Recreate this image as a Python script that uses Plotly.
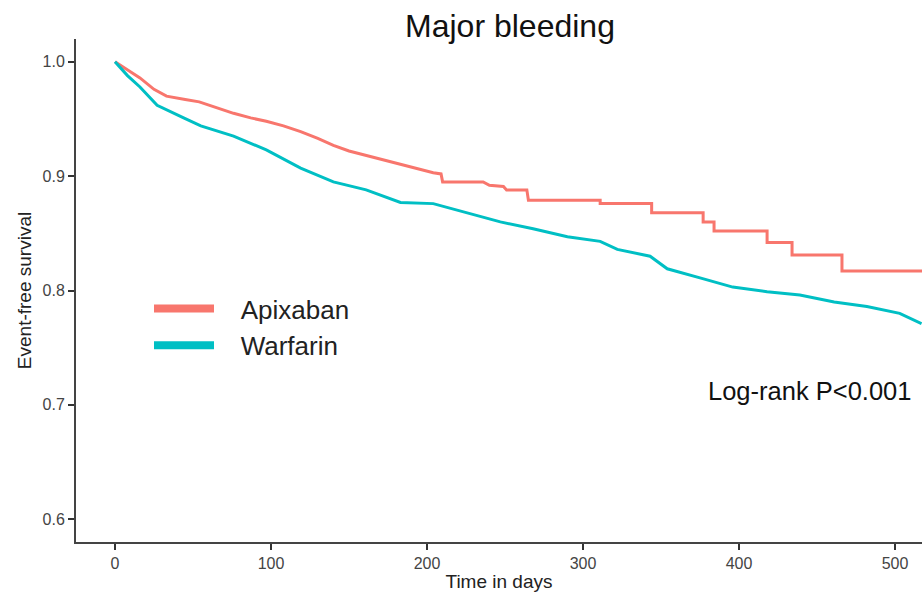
import plotly.graph_objects as go

# ---- data ----
apix_t = [0, 8, 16, 25, 33, 45, 54, 65, 76, 87, 97, 108, 119, 130, 140, 150, 161, 172,
          183, 193, 204, 209, 210, 236, 240, 249, 251, 264, 265, 311, 311, 344, 344,
          377, 377, 384, 384, 418, 418, 434, 434, 466, 466, 520]
apix_s = [1.0, 0.993, 0.986, 0.976, 0.970, 0.967, 0.965, 0.960, 0.955, 0.951, 0.948,
          0.944, 0.939, 0.933, 0.927, 0.922, 0.918, 0.914, 0.910, 0.907, 0.903, 0.902,
          0.895, 0.895, 0.892, 0.891, 0.888, 0.888, 0.879, 0.879, 0.876, 0.876, 0.868,
          0.868, 0.860, 0.860, 0.852, 0.852, 0.842, 0.842, 0.831, 0.831, 0.817, 0.817]

warf_t = [0, 8, 16, 27, 44, 55, 76, 97, 119, 140, 161, 183, 204, 225, 247, 268, 290,
          311, 322, 343, 354, 375, 396, 418, 439, 461, 482, 503, 517]
warf_s = [1.0, 0.988, 0.978, 0.962, 0.951, 0.944, 0.935, 0.923, 0.907, 0.895, 0.888,
          0.877, 0.876, 0.868, 0.860, 0.854, 0.847, 0.843, 0.836, 0.830, 0.819, 0.811,
          0.803, 0.799, 0.796, 0.790, 0.786, 0.780, 0.771]

groups = ["Apixaban", "Warfarin"]
colors = ["#F8766D", "#00BFC4"]
x_ticks = [0, 100, 200, 300, 400, 500]
y_ticks = [0.6, 0.7, 0.8, 0.9, 1.0]

FONT = "Liberation Sans, Arial, sans-serif"
NB = "\u00a0"

fig = go.Figure()
fig.add_trace(go.Scatter(x=apix_t, y=apix_s, mode="lines", line=dict(color=colors[0], width=3),
                         showlegend=False, hoverinfo="skip"))
fig.add_trace(go.Scatter(x=warf_t, y=warf_s, mode="lines", line=dict(color=colors[1], width=3),
                         showlegend=False, hoverinfo="skip"))
for g, c in zip(groups, colors):
    fig.add_trace(go.Scatter(x=[None], y=[None], mode="lines", name=NB * 3 + g,
                             line=dict(color=c, width=8), showlegend=True))

fig.update_layout(
    width=922, height=592,
    margin=dict(l=76, r=0, t=39, b=50),
    paper_bgcolor="white", plot_bgcolor="white",
    font=dict(family=FONT, color="#222"),
    title=dict(text="Major bleeding", x=0.513, xref="paper", xanchor="center",
               y=1 - 26 / 592, yref="container", yanchor="middle",
               font=dict(size=32, color="#111", family=FONT)),
    legend=dict(x=(149 - 76) / 846, y=(542 - 285) / 503, xanchor="left", yanchor="top",
                font=dict(size=26, color="#222", family=FONT), itemwidth=60,
                bgcolor="rgba(0,0,0,0)", tracegroupgap=0),
    xaxis=dict(range=[-25, 517.3], tickmode="array", tickvals=x_ticks,
               ticktext=[str(v) for v in x_ticks],
               showgrid=False, zeroline=False, showline=True, linecolor="#444", linewidth=2,
               ticks="outside", ticklen=6, tickcolor="#333", tickwidth=1.5,
               tickfont=dict(size=16, color="#444"),
               title=dict(text="Time in days", font=dict(size=19, color="#222"), standoff=6)),
    yaxis=dict(range=[0.58, 1.02], tickmode="array", tickvals=y_ticks,
               ticktext=[f"{v:.1f}" for v in y_ticks],
               showgrid=False, zeroline=False, showline=True, linecolor="#444", linewidth=2,
               ticks="outside", ticklen=6, tickcolor="#333", tickwidth=1.5,
               tickfont=dict(size=16, color="#444"),
               title=dict(text="Event-free survival", font=dict(size=19, color="#222"), standoff=6)),
    annotations=[dict(text="Log-rank P<0.001", x=379, y=0.712, xref="x", yref="y",
                      xanchor="left", yanchor="middle", showarrow=False,
                      font=dict(size=25.5, color="#111", family=FONT))],
)

fig.write_html("out.html")
